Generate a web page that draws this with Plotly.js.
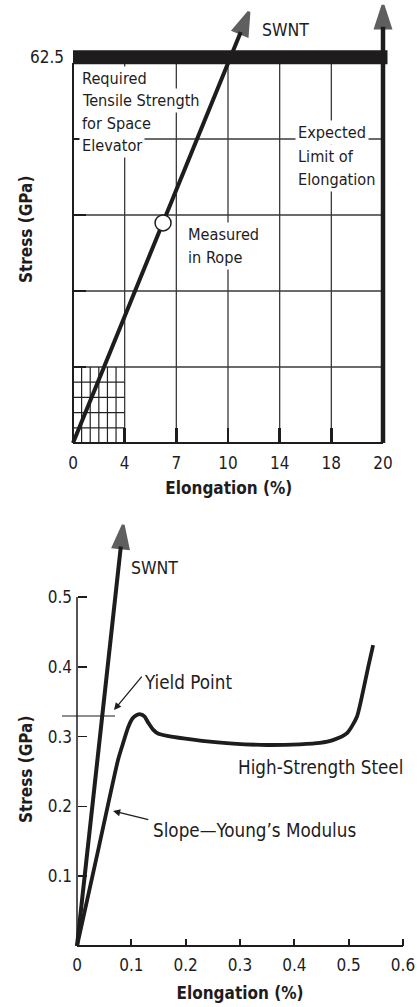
<!DOCTYPE html>
<html><head><meta charset="utf-8">
<script src="https://cdn.plot.ly/plotly-3.0.1.min.js"></script>
<style>html,body{margin:0;padding:0;background:#fff}#chart{width:420px;height:1007px}</style>
</head><body><div id="chart"></div>
<script>
// ---------- Top chart (space elevator) ----------
// x ticks are evenly spaced on the page; plotted in "display" units 0..20
const topTickVals = [0, 10/3, 20/3, 10, 40/3, 50/3, 20];
const topTickText = ['0', '4', '7', '10', '14', '18', '20'];
const topStressTicks = [0, 12.5, 25, 37.5, 50, 62.5];
const topStressText = ['', '', '', '', '', '62.5'];
const requiredStrength = 62.5;
const swntTopX = [0, 11.35];
const swntTopY = [0, 70.9];
const ropeX = [5.81];
const ropeY = [36.2];
const limitX = [20, 20];
const limitY = [0, 72.0];

// ---------- Bottom chart (SWNT vs steel) ----------
const botTickVals = [0, 0.1, 0.2, 0.3, 0.4, 0.5, 0.6];
const botStressTicks = [0.1, 0.2, 0.3, 0.4, 0.5];
const swntBotX = [0, 0.0850];
const swntBotY = [0, 0.6030];
const steelX = [0, 0.04, 0.0755, 0.085, 0.094, 0.102, 0.11, 0.117, 0.124, 0.131, 0.14, 0.15, 0.177, 0.23, 0.287, 0.35, 0.41, 0.447, 0.471, 0.497, 0.515, 0.527, 0.536, 0.545];
const steelY = [0, 0.141, 0.2665, 0.291, 0.313, 0.326, 0.331, 0.332, 0.329, 0.32, 0.31, 0.304, 0.2995, 0.294, 0.290, 0.288, 0.289, 0.291, 0.295, 0.305, 0.328, 0.367, 0.40, 0.431];
const yieldStress = 0.3295;

// ---------- layout helpers (pixel frame of the page) ----------
const W = 420, H = 1007;
const px = p => p / W;
const py = p => 1 - p / H;
const INK = '#1e1c1d';
const GRID = '#3a3a3a';
const FONT = '"DejaVu Sans Condensed", "Liberation Sans Narrow", "Arial Narrow", sans-serif';

// top frame: x 0 -> 73px, 20 -> 383px ; y 0 -> 443px, 62.5 -> 63px
const tX0 = 73, tXs = 310 / 20, tY0 = 443, tYs = 380 / 62.5;
const topXRange = [-0.2, 20.3], topYRange = [-0.4, 72.5];
// bottom frame: x 0 -> 77px, 0.6 -> 403px ; y 0 -> 946px, 0.5 -> 597px
const bX0 = 77, bXs = 326 / 0.6, bY0 = 946, bYs = 349 / 0.5;
const botXRange = [-0.006, 0.606], botYRange = [-0.006, 0.61];

const arrowMarker = {symbol: 'arrow', size: [0, 24], angleref: 'previous', color: INK, line: {color: INK, width: 3}};
const traces = [
  {x: limitX, y: limitY, xaxis: 'x', yaxis: 'y', mode: 'lines+markers', cliponaxis: false,
   line: {color: INK, width: 4.5}, marker: arrowMarker},
  {x: swntTopX, y: swntTopY, xaxis: 'x', yaxis: 'y', mode: 'lines+markers', cliponaxis: false,
   line: {color: INK, width: 4}, marker: arrowMarker},
  {x: ropeX, y: ropeY, xaxis: 'x', yaxis: 'y', mode: 'markers',
   marker: {symbol: 'circle', size: 16, color: '#fff', line: {color: INK, width: 1.5}}},
  {x: swntBotX, y: swntBotY, xaxis: 'x2', yaxis: 'y2', mode: 'lines+markers', cliponaxis: false,
   line: {color: INK, width: 4}, marker: arrowMarker},
  {x: steelX, y: steelY, xaxis: 'x2', yaxis: 'y2', mode: 'lines',
   line: {color: INK, width: 3.8, shape: 'spline', smoothing: 0.6}}
];

// grid lines built from tick arrays
const shapes = [];
topTickVals.slice(1, -1).forEach(v => shapes.push({type: 'line', xref: 'x', yref: 'y', x0: v, x1: v, y0: 0, y1: requiredStrength, line: {color: GRID, width: 1.3}, layer: 'below'}));
topStressTicks.slice(1, -1).forEach(v => shapes.push({type: 'line', xref: 'x', yref: 'y', x0: 0, x1: 20, y0: v, y1: v, line: {color: GRID, width: 1.3}, layer: 'below'}));
// fine grid in the first cell
const cellW = topTickVals[1], cellH = topStressTicks[1];
for (let k = 1; k < 6; k++) shapes.push({type: 'line', xref: 'x', yref: 'y', x0: cellW * k / 6, x1: cellW * k / 6, y0: 0, y1: cellH, line: {color: '#222', width: 1.2}, layer: 'below'});
for (let k = 1; k < 5; k++) shapes.push({type: 'line', xref: 'x', yref: 'y', x0: 0, x1: cellW, y0: cellH * k / 5, y1: cellH * k / 5, line: {color: '#222', width: 1.2}, layer: 'below'});
// axis lines
shapes.push({type: 'line', xref: 'x', yref: 'y', x0: 0, x1: 0, y0: 0, y1: requiredStrength, line: {color: INK, width: 2}, layer: 'below'});
shapes.push({type: 'line', xref: 'x', yref: 'y', x0: 0, x1: 20, y0: 0, y1: 0, line: {color: INK, width: 2.2}, layer: 'below'});
// required tensile strength bar
shapes.push({type: 'rect', xref: 'paper', yref: 'y', x0: px(73), x1: px(387.5), y0: requiredStrength - 0.2, y1: requiredStrength + 2.1, fillcolor: INK, line: {width: 0}});
// bottom axis lines
shapes.push({type: 'line', xref: 'x2', yref: 'y2', x0: 0, x1: 0.6, y0: 0, y1: 0, line: {color: INK, width: 2}, layer: 'below'});
shapes.push({type: 'line', xref: 'x2', yref: 'y2', x0: 0, x1: 0, y0: 0, y1: 0.5, line: {color: INK, width: 1.5}, layer: 'below'});
// yield level marker
shapes.push({type: 'line', xref: 'paper', yref: 'y2', x0: px(62), x1: px(115), y0: yieldStress, y1: yieldStress, line: {color: INK, width: 1}});

const tFont = {family: FONT, size: 16.2, color: INK};
const bFont = {family: FONT, size: 18.7, color: INK};
const sFont = {family: FONT, size: 17.5, color: INK};
const lab = (text, x, y, font, ax, ay) => ({text, x, y, xref: ax, yref: ay, xanchor: 'left', yanchor: 'middle', showarrow: false, font, bgcolor: '#fff', borderpad: 2});
const annotations = [
  lab('SWNT', 12.0, 67.9, sFont, 'x', 'y'),
  lab('Required', 0.4, 60.03, tFont, 'x', 'y'),
  lab('Tensile Strength', 0.4, 56.3, tFont, 'x', 'y'),
  lab('for Space', 0.4, 52.6, tFont, 'x', 'y'),
  lab('Elevator', 0.4, 48.85, tFont, 'x', 'y'),
  lab('Expected', 14.3, 50.99, tFont, 'x', 'y'),
  lab('Limit of', 14.3, 47.04, tFont, 'x', 'y'),
  lab('Elongation', 14.3, 43.26, tFont, 'x', 'y'),
  lab('Measured', 7.2, 34.21, tFont, 'x', 'y'),
  lab('in Rope', 7.2, 30.43, tFont, 'x', 'y'),
  lab('SWNT', 0.093, 0.5415, sFont, 'x2', 'y2'),
  lab('Yield Point', 0.117, 0.3768, bFont, 'x2', 'y2'),
  lab('High-Strength Steel', 0.29, 0.2564, bFont, 'x2', 'y2'),
  lab('Slope\u2014Young\u2019s Modulus', 0.134, 0.166, bFont, 'x2', 'y2'),
  {text: '', x: 0.0681, y: 0.338, ax: 0.1215, ay: 0.388, xref: 'x2', yref: 'y2', axref: 'x2', ayref: 'y2',
   showarrow: true, arrowhead: 2, arrowsize: 1.1, arrowwidth: 1.3, arrowcolor: INK},
  {text: '', x: 0.0663, y: 0.1934, ax: 0.134, ay: 0.1805, xref: 'x2', yref: 'y2', axref: 'x2', ayref: 'y2',
   showarrow: true, arrowhead: 2, arrowsize: 1.1, arrowwidth: 1.3, arrowcolor: INK},
  {text: 'Stress (GPa)', textangle: -90, x: px(26), y: py(230), xref: 'paper', yref: 'paper',
   xanchor: 'center', yanchor: 'middle', showarrow: false,
   font: {family: FONT, size: 17, color: INK, weight: 'bold'}},
  {text: 'Stress (GPa)', textangle: -90, x: px(26), y: py(770), xref: 'paper', yref: 'paper',
   xanchor: 'center', yanchor: 'middle', showarrow: false,
   font: {family: FONT, size: 17, color: INK, weight: 'bold'}}
];

const tickFont = {family: FONT, size: 17, color: INK};
const titleFont = {family: FONT, size: 17, color: INK, weight: 'bold'};

const layout = {
  width: W, height: H, autosize: false,
  margin: {l: 0, r: 0, t: 0, b: 0, pad: 0},
  paper_bgcolor: '#fff', plot_bgcolor: 'rgba(0,0,0,0)',
  showlegend: false,
  font: {family: FONT, color: INK},
  xaxis: {
    domain: [px(tX0 + topXRange[0] * tXs), px(tX0 + topXRange[1] * tXs)], range: topXRange,
    anchor: 'free', position: py(tY0),
    tickmode: 'array', tickvals: topTickVals, ticktext: topTickText,
    ticks: 'inside', ticklen: 15, tickwidth: 2.5, tickcolor: INK,
    showgrid: false, zeroline: false, showline: false, tickfont: tickFont, ticklabelstandoff: 8,
    title: {text: 'Elongation (%)', font: titleFont, standoff: 10}
  },
  yaxis: {
    domain: [py(tY0 - topYRange[0] * tYs), py(tY0 - topYRange[1] * tYs)], range: topYRange,
    anchor: 'free', position: px(tX0),
    tickmode: 'array', tickvals: topStressTicks, ticktext: topStressText,
    ticks: 'inside', ticklen: 12, tickwidth: 2, tickcolor: INK, ticklabelshift: -6, ticklabelstandoff: 9,
    showgrid: false, zeroline: false, showline: false, tickfont: tickFont
  },
  xaxis2: {
    domain: [px(bX0 + botXRange[0] * bXs), px(bX0 + botXRange[1] * bXs)], range: botXRange,
    anchor: 'free', position: py(bY0),
    tickmode: 'array', tickvals: botTickVals,
    ticks: 'inside', ticklen: 7, tickwidth: 2, tickcolor: INK,
    showgrid: false, zeroline: false, showline: false, tickfont: tickFont, ticklabelstandoff: 7,
    title: {text: 'Elongation (%)', font: titleFont, standoff: 13}
  },
  yaxis2: {
    domain: [py(bY0 - botYRange[0] * bYs), py(bY0 - botYRange[1] * bYs)], range: botYRange,
    anchor: 'free', position: px(bX0),
    tickmode: 'array', tickvals: botStressTicks,
    ticks: 'inside', ticklen: 9, tickwidth: 1.5, tickcolor: INK, ticklabelstandoff: 5,
    showgrid: false, zeroline: false, showline: false, tickfont: tickFont
  },
  shapes, annotations
};

Plotly.newPlot('chart', traces, layout, {staticPlot: true, displayModeBar: false});
</script>
</body></html>
